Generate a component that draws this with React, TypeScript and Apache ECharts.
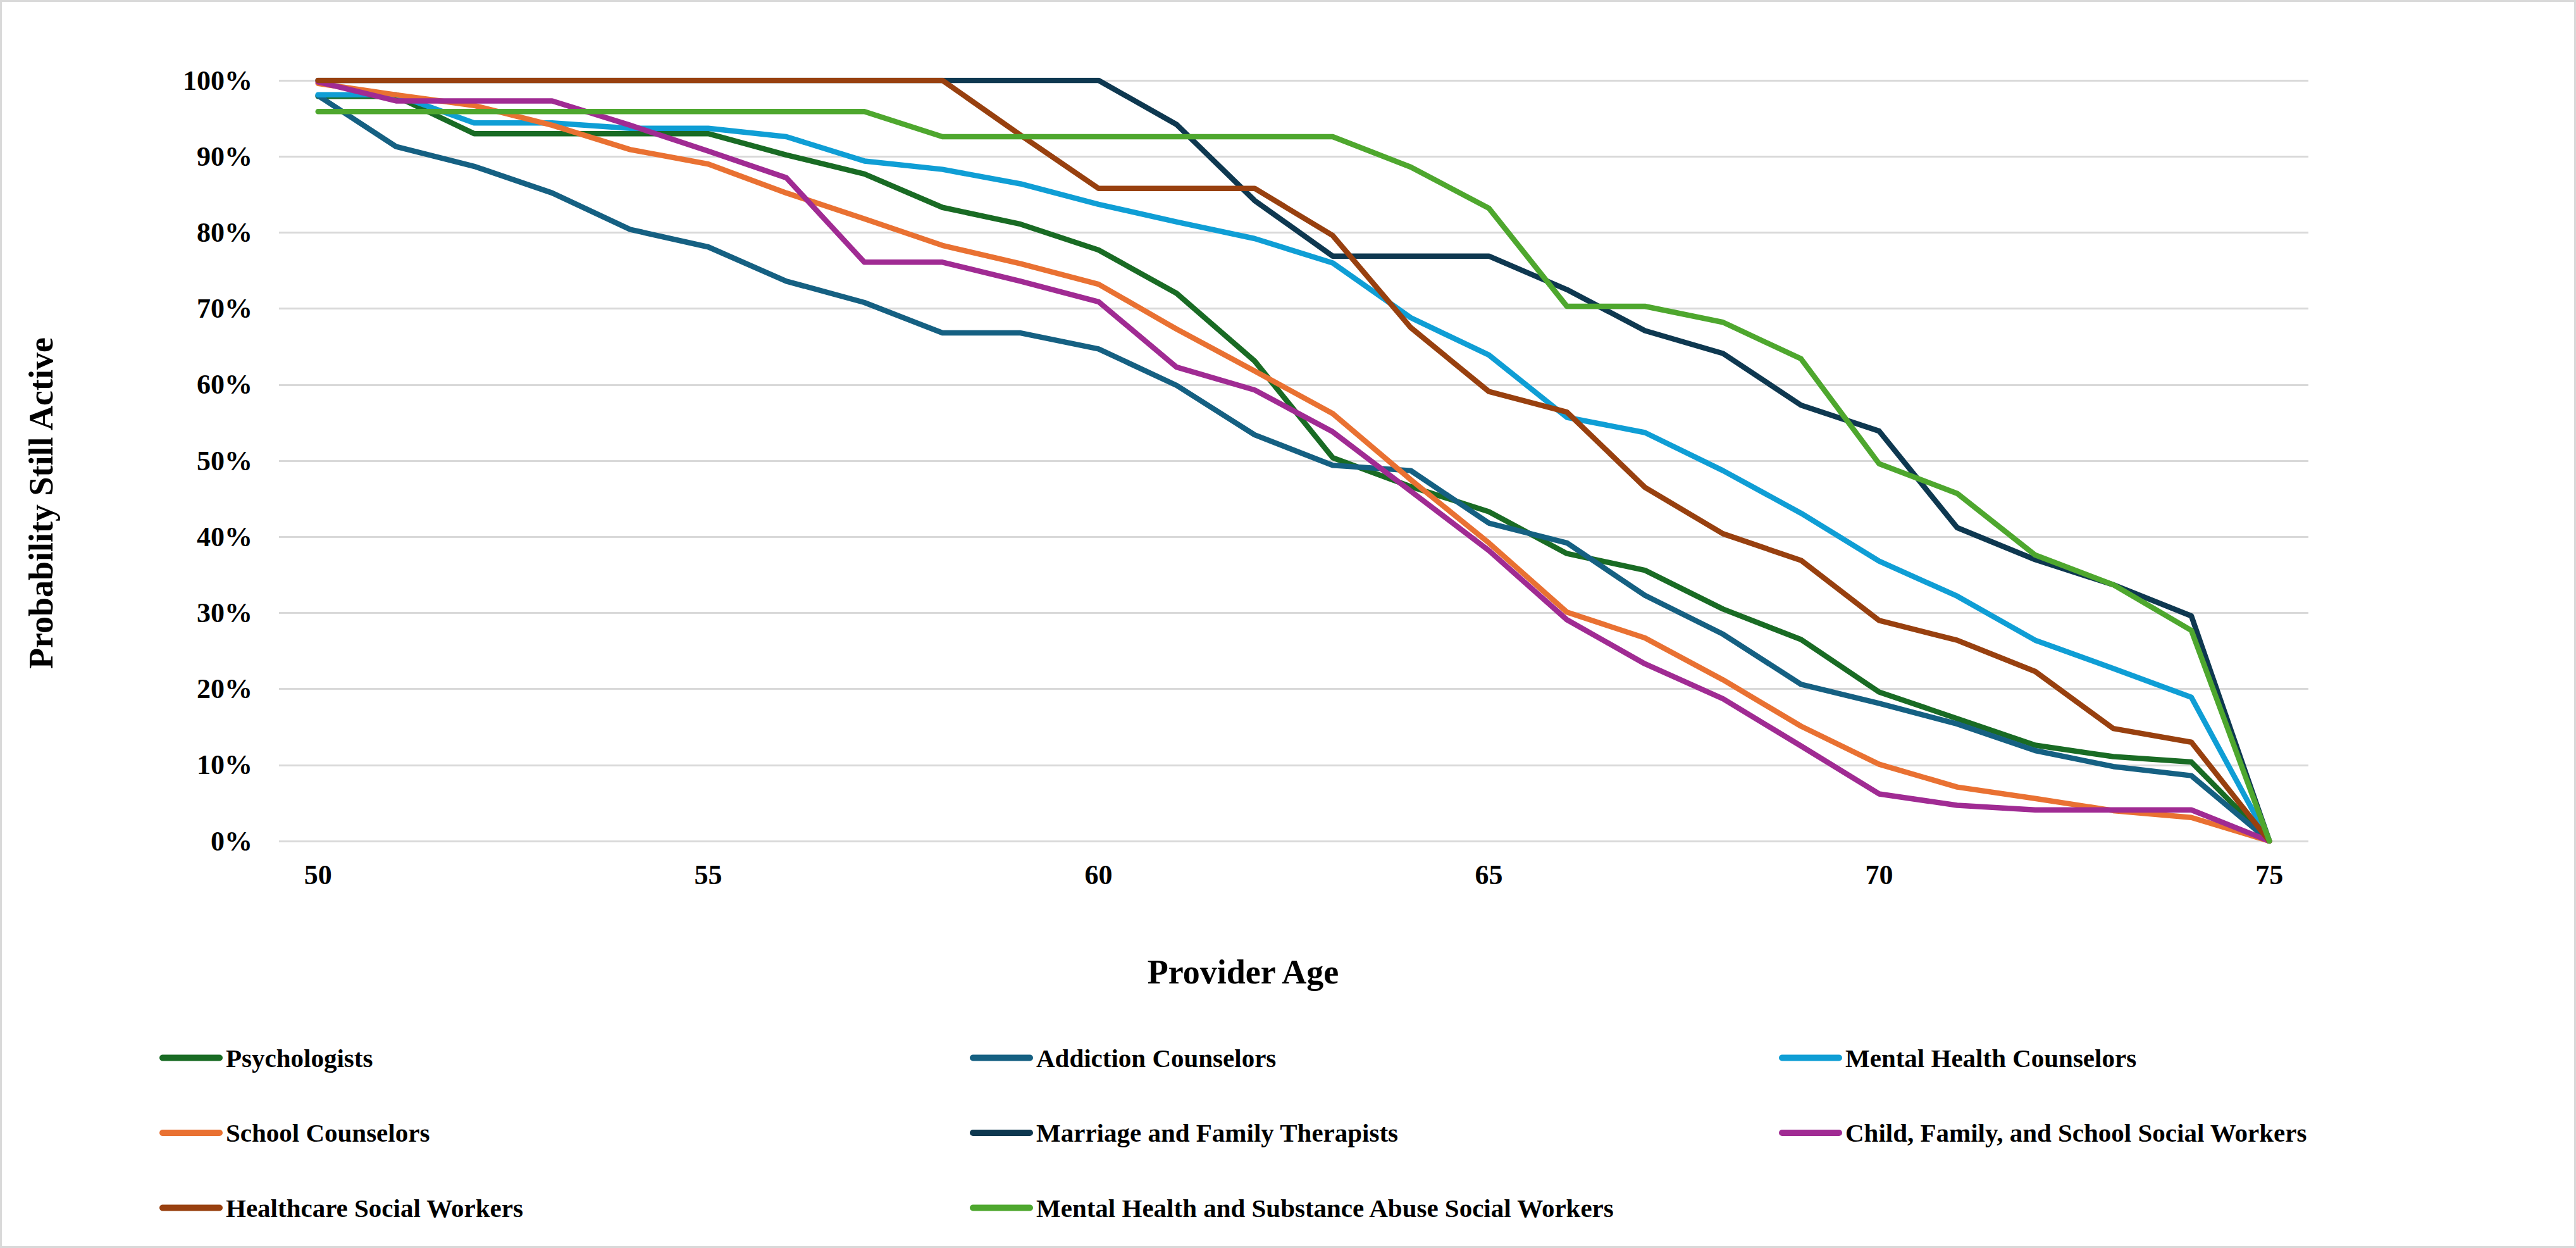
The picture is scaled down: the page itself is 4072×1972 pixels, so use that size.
import React, { useEffect, useRef } from "react";
import * as echarts from "echarts";

const ages = ["50","51","52","53","54","55","56","57","58","59","60","61","62","63","64","65","66","67","68","69","70","71","72","73","74","75"];
const xTickEvery = 5;
const yTicks = [0, 10, 20, 30, 40, 50, 60, 70, 80, 90, 100];

const psychologists = [97.9,97.9,93.0,93.0,93.0,93.0,90.2,87.7,83.3,81.1,77.7,72.0,63.1,50.4,46.6,43.3,37.8,35.6,30.5,26.5,19.6,16.1,12.6,11.1,10.4,0];
const addictionCounselors = [98.0,91.3,88.7,85.2,80.4,78.1,73.6,70.8,66.8,66.8,64.7,59.9,53.4,49.4,48.7,41.8,39.2,32.3,27.2,20.6,18.1,15.4,11.9,9.8,8.6,0];
const mentalHealthCounselors = [98.1,98.1,94.4,94.4,93.7,93.7,92.6,89.4,88.3,86.4,83.7,81.4,79.2,76.0,68.8,63.9,55.7,53.7,48.7,43.1,36.8,32.2,26.4,22.7,18.9,0];
const schoolCounselors = [99.6,98.1,96.7,94.1,90.9,89.0,85.2,81.8,78.3,75.9,73.2,67.3,61.8,56.2,47.5,39.2,30.1,26.7,21.2,15.1,10.1,7.1,5.6,4.0,3.1,0];
const marriageFamilyTherapists = [100,100,100,100,100,100,100,100,100,100,100,94.2,84.2,76.9,76.9,76.9,72.5,67.1,64.1,57.3,53.9,41.2,37.0,33.7,29.6,0];
const childFamilySchoolSW = [99.8,97.3,97.3,97.3,94.1,90.7,87.2,76.1,76.1,73.6,70.9,62.3,59.3,53.8,46.0,38.2,29.1,23.3,18.7,12.5,6.2,4.7,4.1,4.1,4.1,0];
const healthcareSW = [100,100,100,100,100,100,100,100,100,92.8,85.8,85.8,85.8,79.6,67.5,59.1,56.4,46.5,40.4,36.9,29.0,26.4,22.3,14.8,13.0,0];
const mhsaSW = [95.9,95.9,95.9,95.9,95.9,95.9,95.9,95.9,92.6,92.6,92.6,92.6,92.6,92.6,88.6,83.2,70.3,70.3,68.2,63.4,49.6,45.7,37.6,33.7,27.7,0];

const seriesNames = [
  "Psychologists",
  "Addiction Counselors",
  "Mental Health Counselors",
  "School Counselors",
  "Marriage and Family Therapists",
  "Child, Family, and School Social Workers",
  "Healthcare Social Workers",
  "Mental Health and Substance Abuse Social Workers",
];
const seriesData = [
  psychologists,
  addictionCounselors,
  mentalHealthCounselors,
  schoolCounselors,
  marriageFamilyTherapists,
  childFamilySchoolSW,
  healthcareSW,
  mhsaSW,
];
const seriesColors = ["#196B24", "#156082", "#0F9ED5", "#E97132", "#0E3850", "#A02B93", "#98400F", "#4EA72E"];

const legendColumns = [
  [seriesNames[0], seriesNames[3], seriesNames[6]],
  [seriesNames[1], seriesNames[4], seriesNames[7]],
  [seriesNames[2], seriesNames[5]],
];
const legendLefts = [252, 1533, 2812];

const FONT = "'Liberation Serif', 'Times New Roman', serif";

export default function App() {
  const ref = useRef<HTMLDivElement>(null);
  useEffect(() => {
    if (!ref.current) return;
    const chart = echarts.init(ref.current, undefined, { renderer: "svg" });
    const legendIcon = "path://M5 0H95A5 5 0 0 1 95 10H5A5 5 0 0 1 5 0Z";
    chart.setOption({
      animation: false,
      backgroundColor: "#ffffff",
      grid: { left: 441, right: 423, top: 127, bottom: 643, containLabel: false },
      xAxis: {
        type: "category",
        data: ages,
        boundaryGap: true,
        axisLine: { show: false },
        axisTick: { show: false },
        axisLabel: {
          interval: xTickEvery - 1,
          margin: 31,
          color: "#000",
          fontFamily: FONT,
          fontWeight: "bold",
          fontSize: 44,
        },
        splitLine: { show: false },
      },
      yAxis: {
        type: "value",
        min: yTicks[0],
        max: yTicks[yTicks.length - 1],
        interval: 10,
        axisLine: { show: false },
        axisTick: { show: false },
        axisLabel: {
          formatter: "{value}%",
          margin: 42,
          color: "#000",
          fontFamily: FONT,
          fontWeight: "bold",
          fontSize: 44,
        },
        splitLine: { show: true, lineStyle: { color: "#d9d9d9", width: 3 } },
      },
      legend: legendColumns.map((col, i) => ({
        data: col,
        orient: "vertical",
        left: legendLefts[i],
        top: 1651,
        itemWidth: 100,
        itemHeight: 10,
        itemGap: 77.5,
        icon: legendIcon,
        selectedMode: false,
        padding: 0,
        textStyle: {
          color: "#000",
          fontFamily: FONT,
          fontWeight: "bold",
          fontSize: 41,
          lineHeight: 40,
        },
      })),
      graphic: [
        {
          type: "rect",
          shape: { x: 1.5, y: 1.5, width: 4069, height: 1969 },
          style: { fill: "none", stroke: "#d9d9d9", lineWidth: 3 },
          silent: true,
        },
        {
          type: "text",
          x: 65,
          y: 795,
          rotation: Math.PI / 2,
          style: {
            text: "Probability Still Active",
            fill: "#000",
            font: `bold 54px ${FONT}`,
            align: "center",
            verticalAlign: "middle",
          },
        },
        {
          type: "text",
          x: 1965,
          y: 1536,
          style: {
            text: "Provider Age",
            fill: "#000",
            font: `bold 54px ${FONT}`,
            align: "center",
            verticalAlign: "middle",
          },
        },
      ],
      series: seriesNames.map((name, i) => ({
        name,
        type: "line",
        data: seriesData[i],
        symbol: "none",
        smooth: false,
        color: seriesColors[i],
        lineStyle: { width: 8.5, color: seriesColors[i], cap: "round", join: "round" },
      })),
    });
    return () => chart.dispose();
  }, []);
  return (
    <div
      ref={ref}
      style={{ position: "fixed", left: 0, top: 0, width: 4072, height: 1972, background: "#fff" }}
    />
  );
}
